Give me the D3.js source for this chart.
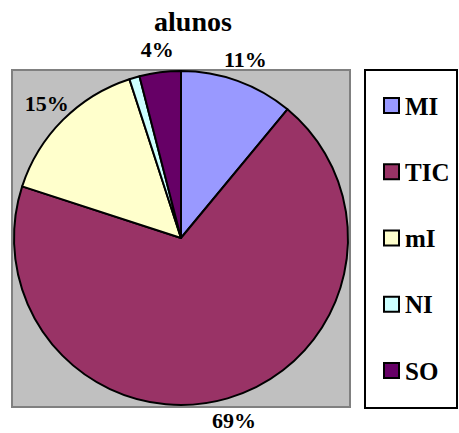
<!DOCTYPE html>
<html>
<head>
<meta charset="utf-8">
<script src="https://cdn.jsdelivr.net/npm/d3@7"></script>
<style>
  html, body { margin: 0; padding: 0; background: #ffffff; }
  svg { display: block; }
  text { font-family: "Liberation Serif", "Times New Roman", Times, serif; font-weight: bold; }
</style>
</head>
<body>
<svg id="chart" width="459" height="433"></svg>
<script>
const categories = ["MI", "TIC", "mI", "NI", "SO"];
const values = [11, 69, 15, 1, 4];
const pctLabels = ["11%", "69%", "15%", "", "4%"];
const colors = ["#9999FF", "#993366", "#FFFFCC", "#CCFFFF", "#660066"];
const titleText = "alunos";

const svg = d3.select("#chart");

// plot area
const plot = { x: 12, y: 70, w: 338, h: 337 };
svg.append("rect")
  .attr("x", plot.x).attr("y", plot.y)
  .attr("width", plot.w).attr("height", plot.h)
  .attr("fill", "#C0C0C0").attr("stroke", "#808080").attr("stroke-width", 2);

const cx = 181, cy = 238, R = 167;
const data = categories.map((c, i) => ({ cat: c, value: values[i], label: pctLabels[i], color: colors[i] }));
const pie = d3.pie().value(d => d.value).sort(null);
const arcs = pie(data);
const arc = d3.arc().innerRadius(0).outerRadius(R);
const labelArc = d3.arc().innerRadius(190).outerRadius(190);

const g = svg.append("g").attr("transform", `translate(${cx},${cy})`);
g.selectAll("path.slice").data(arcs).join("path")
  .attr("class", "slice")
  .attr("d", arc)
  .attr("fill", d => d.data.color)
  .attr("stroke", "#000").attr("stroke-width", 2).attr("stroke-linejoin", "round");

g.selectAll("text.lbl").data(arcs.filter(d => d.data.label)).join("text")
  .attr("class", "lbl")
  .attr("x", d => labelArc.centroid(d)[0])
  .attr("y", d => labelArc.centroid(d)[1])
  .attr("text-anchor", "middle")
  .attr("dominant-baseline", "central")
  .attr("font-size", 22)
  .attr("fill", "#000")
  .text(d => d.data.label);

// title (visible second line)
svg.append("text")
  .attr("x", 193).attr("y", 31)
  .attr("text-anchor", "middle")
  .attr("font-size", 28)
  .attr("fill", "#000")
  .text(titleText);

// legend
const leg = { x: 365, y: 70, w: 92, h: 338 };
svg.append("rect")
  .attr("x", leg.x).attr("y", leg.y).attr("width", leg.w).attr("height", leg.h)
  .attr("fill", "#fff").attr("stroke", "#000").attr("stroke-width", 2);

const ly = d3.scalePoint().domain(categories).range([105.5, 370.5]);
const items = svg.selectAll("g.leg").data(data).join("g")
  .attr("class", "leg")
  .attr("transform", d => `translate(384, ${ly(d.cat)})`);
items.append("rect")
  .attr("x", 0).attr("y", -7.5).attr("width", 15).attr("height", 15)
  .attr("fill", d => d.color).attr("stroke", "#000").attr("stroke-width", 2);
items.append("text")
  .attr("x", 21).attr("y", 9)
  .attr("font-size", 25)
  .attr("fill", "#000")
  .text(d => d.cat);
</script>
</body>
</html>
